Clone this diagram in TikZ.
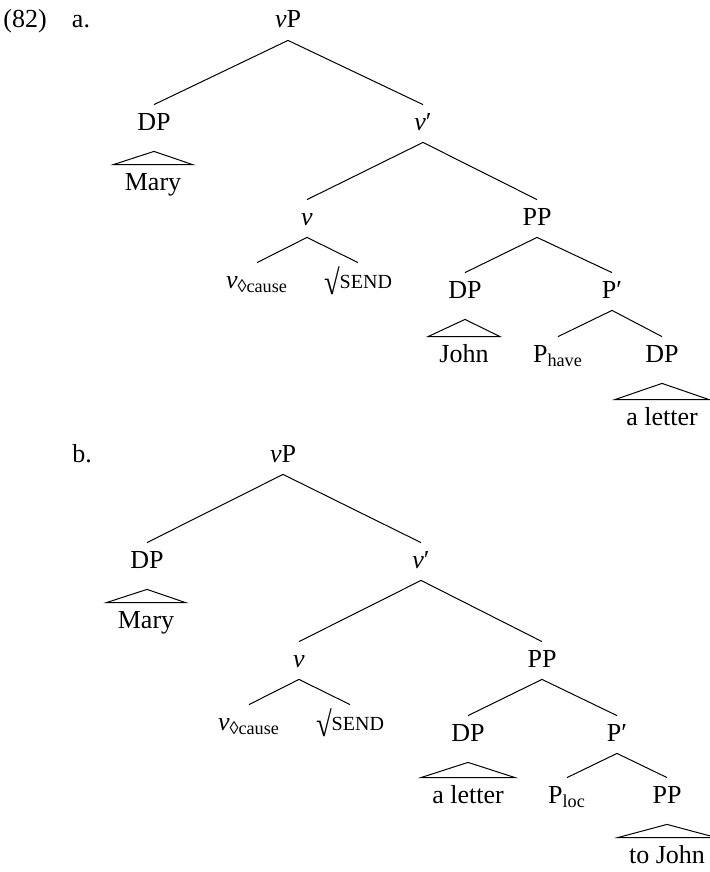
\documentclass[tikz,border=0pt]{standalone}
\usepackage{fontspec}
\usepackage{graphicx}
\setmainfont{Liberation Serif}
\newcommand{\smallcapsend}{\raisebox{-3pt}{\scalebox{1.1}[1.35]{√}}{\fontsize{10}{12}\selectfont SEND}}
\begin{document}
\begin{tikzpicture}
[x=0.5pt,y=-0.5pt,
 labeldecorate/.style={anchor=base,inner sep=3.5pt,text height=9pt,text depth=2.5pt,font=\fontsize{13}{15}\selectfont},
 leafdecorate/.style={labeldecorate,inner xsep=5.5pt},
 linedecorate/.style={-,line width=0.5pt}]
\useasboundingbox (0,0) rectangle (710,872);
%% example numbers
\node (num) at (25,28) [labeldecorate] {(82)};
\node (lbla) at (81,28) [labeldecorate] {a.};
\node (lblb) at (82,462) [labeldecorate] {b.};
%% nodes of tree a
\foreach \nodename/\x/\y/\txt in {avP/288/28/{\textit{v}P}, aDP/154/130/DP,
  avbar/423/130/{\textit{v}′}, av/307/225/{\textit{v}}, aPP/537/225/PP,
  acause/257/288/{\textit{v}\textsubscript{◊cause}}, asend/358/288/{\smallcapsend},
  aDPj/465/298/DP, aPbar/612/298/P′, aP/558/362/{P\textsubscript{have}},
  aDPl/662/362/DP} {
  \node (\nodename) at (\x,\y) [labeldecorate] {\txt};
}
\foreach \nodename/\x/\y/\txt in {aMary/153/190/Mary, aJohn/464/362/John,
  aletter/662/425/{a letter}} {
  \node (\nodename) at (\x,\y) [leafdecorate] {\txt};
}
%% nodes of tree b
\foreach \nodename/\x/\y/\txt in {bvP/283/462/{\textit{v}P}, bDP/147/568/DP,
  bvbar/421/568/{\textit{v}′}, bv/299/667/{\textit{v}}, bPP/542/667/PP,
  bcause/249/730/{\textit{v}\textsubscript{◊cause}}, bsend/350/730/{\smallcapsend},
  bDPl/468/741/DP, bPbar/617/741/P′, bP/567/803/{P\textsubscript{loc}},
  bPPj/667/803/PP} {
  \node (\nodename) at (\x,\y) [labeldecorate] {\txt};
}
\foreach \nodename/\x/\y/\txt in {bMary/146/628/Mary, bletter/468/803/{a letter},
  bJohn/667/863/{to John}} {
  \node (\nodename) at (\x,\y) [leafdecorate] {\txt};
}
%% branches
\path
\foreach \startnode/\endnode in {avP/aDP, avP/avbar, avbar/av, avbar/aPP,
  av/acause, av/asend, aPP/aDPj, aPP/aPbar, aPbar/aP, aPbar/aDPl,
  bvP/bDP, bvP/bvbar, bvbar/bv, bvbar/bPP, bv/bcause, bv/bsend,
  bPP/bDPl, bPP/bPbar, bPbar/bP, bPbar/bPPj} {
  (\startnode.south) edge[linedecorate] (\endnode.north)
};
%% triangles
\foreach \startnode/\endnode in {aDP/aMary, aDPj/aJohn, aDPl/aletter,
  bDP/bMary, bDPl/bletter, bPPj/bJohn} {
  \draw[linedecorate] ([yshift=-4.5pt]\startnode.south) -- (\endnode.north west)
    -- (\endnode.north east) -- cycle;
}
\end{tikzpicture}
\end{document}
